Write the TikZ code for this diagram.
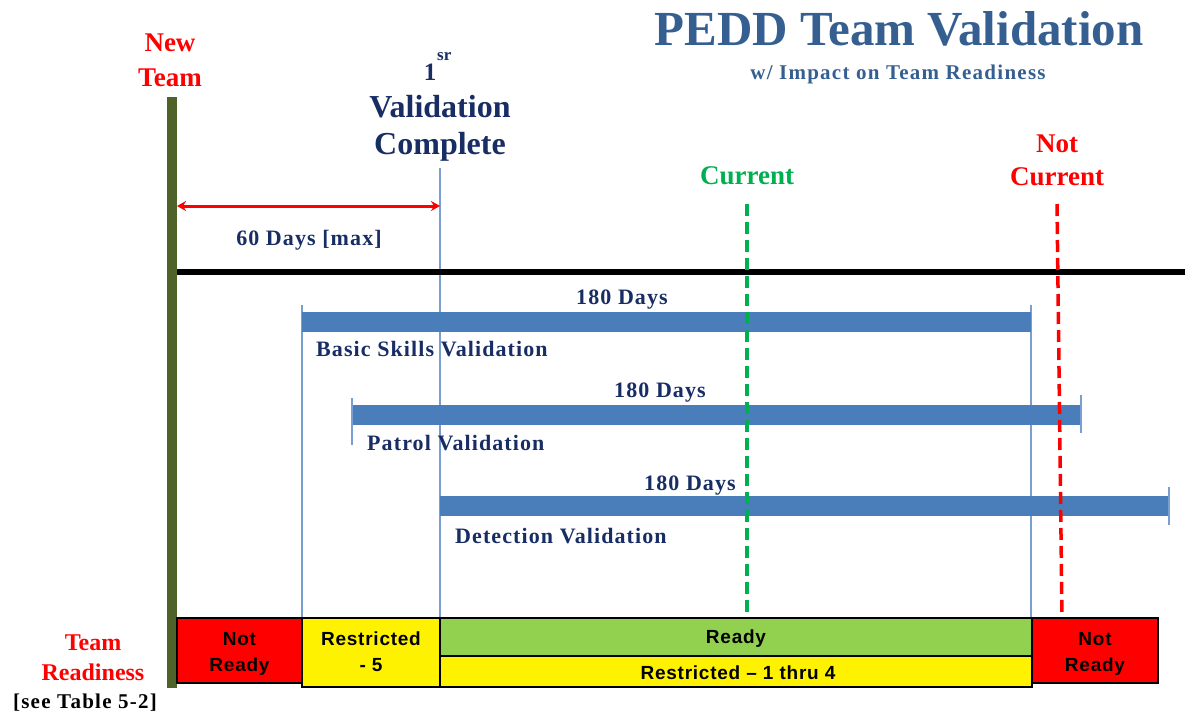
\documentclass[tikz,border=0pt]{standalone}
\usepackage{fontspec}
\setmainfont{Liberation Serif}
\setsansfont{Liberation Sans}
\usetikzlibrary{arrows.meta}
\definecolor{titleblue}{RGB}{54,95,145}
\definecolor{navy}{RGB}{23,45,100}
\definecolor{barblue}{RGB}{74,126,187}
\definecolor{thinblue}{RGB}{120,158,210}
\definecolor{olive}{RGB}{79,98,40}
\definecolor{curgreen}{RGB}{0,176,80}
\definecolor{readygreen}{RGB}{146,208,80}
\tikzset{
  hdred/.style={font=\fontsize{27}{29}\selectfont\bfseries, text=red, inner sep=0, anchor=base},
  hdgreen/.style={font=\fontsize{27}{29}\selectfont\bfseries, text=curgreen, inner sep=0, anchor=base},
  hdnavy/.style={font=\fontsize{32}{34}\selectfont\bfseries, text=navy, inner sep=0, anchor=base},
  lbl/.style={font=\fontsize{22}{25}\selectfont\bfseries\addfontfeature{LetterSpace=5}, text=navy, inner sep=0, anchor=base},
  lblL/.style={lbl, anchor=base west},
  barbox/.style={fill=barblue, draw=none, inner sep=0, outer sep=0},
  thinline/.style={draw=thinblue, line width=1.3},
  cell/.style={draw=black, line width=1.3, inner sep=0, outer sep=0},
  celltxt/.style={font=\sffamily\bfseries\fontsize{19}{22}\selectfont\addfontfeature{LetterSpace=4}, inner sep=0, anchor=base},
  dashline/.style={line width=3.5, dash pattern=on 12pt off 6pt},
}
\begin{document}
\begin{tikzpicture}[x=1pt,y=-1pt]
\useasboundingbox (0,0) rectangle (1185,715);

% title
\node[font=\fontsize{49}{51}\selectfont\bfseries, text=titleblue, inner sep=0, anchor=base] (title) at (899,45) {PEDD Team Validation};
\node[font=\fontsize{21}{23}\selectfont\bfseries\addfontfeature{LetterSpace=6}, text=titleblue, inner sep=0, anchor=base] (subtitle) at (898,79) {w/ Impact on Team Readiness};

% new team bar
\node[fill=olive, minimum width=10, minimum height=591, inner sep=0, outer sep=0] (newbar) at (172,392.5) {};
\node[hdred] (new1) at (170,51) {New};
\node[hdred] (new2) at (170,86) {Team};

% first validation
\node[font=\fontsize{25}{27}\selectfont\bfseries, text=navy, inner sep=0, anchor=base] (one) at (430,80) {1};
\node[font=\fontsize{17}{19}\selectfont\bfseries, text=navy, inner sep=0, anchor=base west] (sr) at (437,60) {sr};
\node[hdnavy] (val1) at (440,117) {Validation};
\node[hdnavy] (val2) at (440,154) {Complete};

% vertical thin lines
\coordinate (v440top) at (440,168);
\coordinate (v440bot) at (440,618);
\coordinate (v302top) at (302,305);
\coordinate (v302bot) at (302,618);
\coordinate (v1031top) at (1031,305);
\coordinate (v1031bot) at (1031,618);
\draw[thinline] (v440top) -- (v440bot);
\draw[thinline] (v302top) -- (v302bot);
\draw[thinline] (v1031top) -- (v1031bot);

% 60 days arrow
\coordinate (a60l) at (177,206);
\coordinate (a60r) at (440,206);
\draw[red, line width=3, {Stealth[length=9pt,width=10pt]}-{Stealth[length=9pt,width=10pt]}] (a60l) -- (a60r);
\node[lbl] (d60) at (309,245) {60 Days [max]};

% black line
\coordinate (blkl) at (177,272);
\coordinate (blkr) at (1185,272);
\draw[black, line width=6] (blkl) -- (blkr);

% current / not current
\node[hdgreen] (cur) at (747,184) {Current};
\node[hdred] (nc1) at (1057,152) {Not};
\node[hdred] (nc2) at (1057,185) {Current};

% bars
\node[barbox, minimum width=729, minimum height=20] (bar1) at (666.5,322) {};
\node[barbox, minimum width=729, minimum height=20] (bar2) at (716.5,415) {};
\node[barbox, minimum width=729, minimum height=20] (bar3) at (804.5,506) {};
\coordinate (t2la) at (352,398); \coordinate (t2lb) at (352,445);
\coordinate (t2ra) at (1081,395); \coordinate (t2rb) at (1081,433);
\coordinate (t3ra) at (1169,487); \coordinate (t3rb) at (1169,525);
\draw[thinline] (t2la) -- (t2lb);
\draw[thinline] (t2ra) -- (t2rb);
\draw[thinline] (t3ra) -- (t3rb);

\node[lbl] (d1) at (622,304) {180 Days};
\node[lblL] (l1) at (316,356) {Basic Skills Validation};
\node[lbl] (d2) at (660,397) {180 Days};
\node[lblL] (l2) at (367,450) {Patrol Validation};
\node[lbl] (d3) at (690,490) {180 Days};
\node[lblL] (l3) at (455,543) {Detection Validation};

% dashed lines
\coordinate (gtop) at (747,204);
\coordinate (gbot) at (747,618);
\coordinate (rtop) at (1057,204);
\coordinate (rbot) at (1062,618);
\draw[dashline, curgreen] (gtop) -- (gbot);
\draw[dashline, red] (rtop) -- (rbot);

% readiness cells
\node[cell, fill=red, minimum width=125, minimum height=65] (nr1) at (239.5,650.5) {};
\node[cell, fill=yellow, minimum width=138, minimum height=69] (r5) at (371,652.5) {};
\node[cell, fill=readygreen, minimum width=592, minimum height=38] (ready) at (736,637) {};
\node[cell, fill=yellow, minimum width=592, minimum height=31] (r14) at (736,671.5) {};
\node[cell, fill=red, minimum width=126, minimum height=65] (nr2) at (1095,650.5) {};

\node[celltxt] (nr1a) at (239.5,645) {Not};
\node[celltxt] (nr1b) at (239.5,671) {Ready};
\node[celltxt] (r5a) at (371,645) {Restricted};
\node[celltxt] (r5b) at (371,671) {- 5};
\node[celltxt] (readyt) at (736,643) {Ready};
\node[celltxt] (r14t) at (738,679) {Restricted – 1 thru 4};
\node[celltxt] (nr2a) at (1095,645) {Not};
\node[celltxt] (nr2b) at (1095,671) {Ready};

% team readiness label
\node[font=\fontsize{24}{26}\selectfont\bfseries, text=red, inner sep=0, anchor=base] (tr1) at (93,650) {Team};
\node[font=\fontsize{24}{26}\selectfont\bfseries, text=red, inner sep=0, anchor=base] (tr2) at (93,680) {Readiness};
\node[font=\fontsize{21}{23}\selectfont\bfseries\addfontfeature{LetterSpace=6}, text=black, inner sep=0, anchor=base] (tab) at (85,708) {[see Table 5-2]};
\end{tikzpicture}
\end{document}
